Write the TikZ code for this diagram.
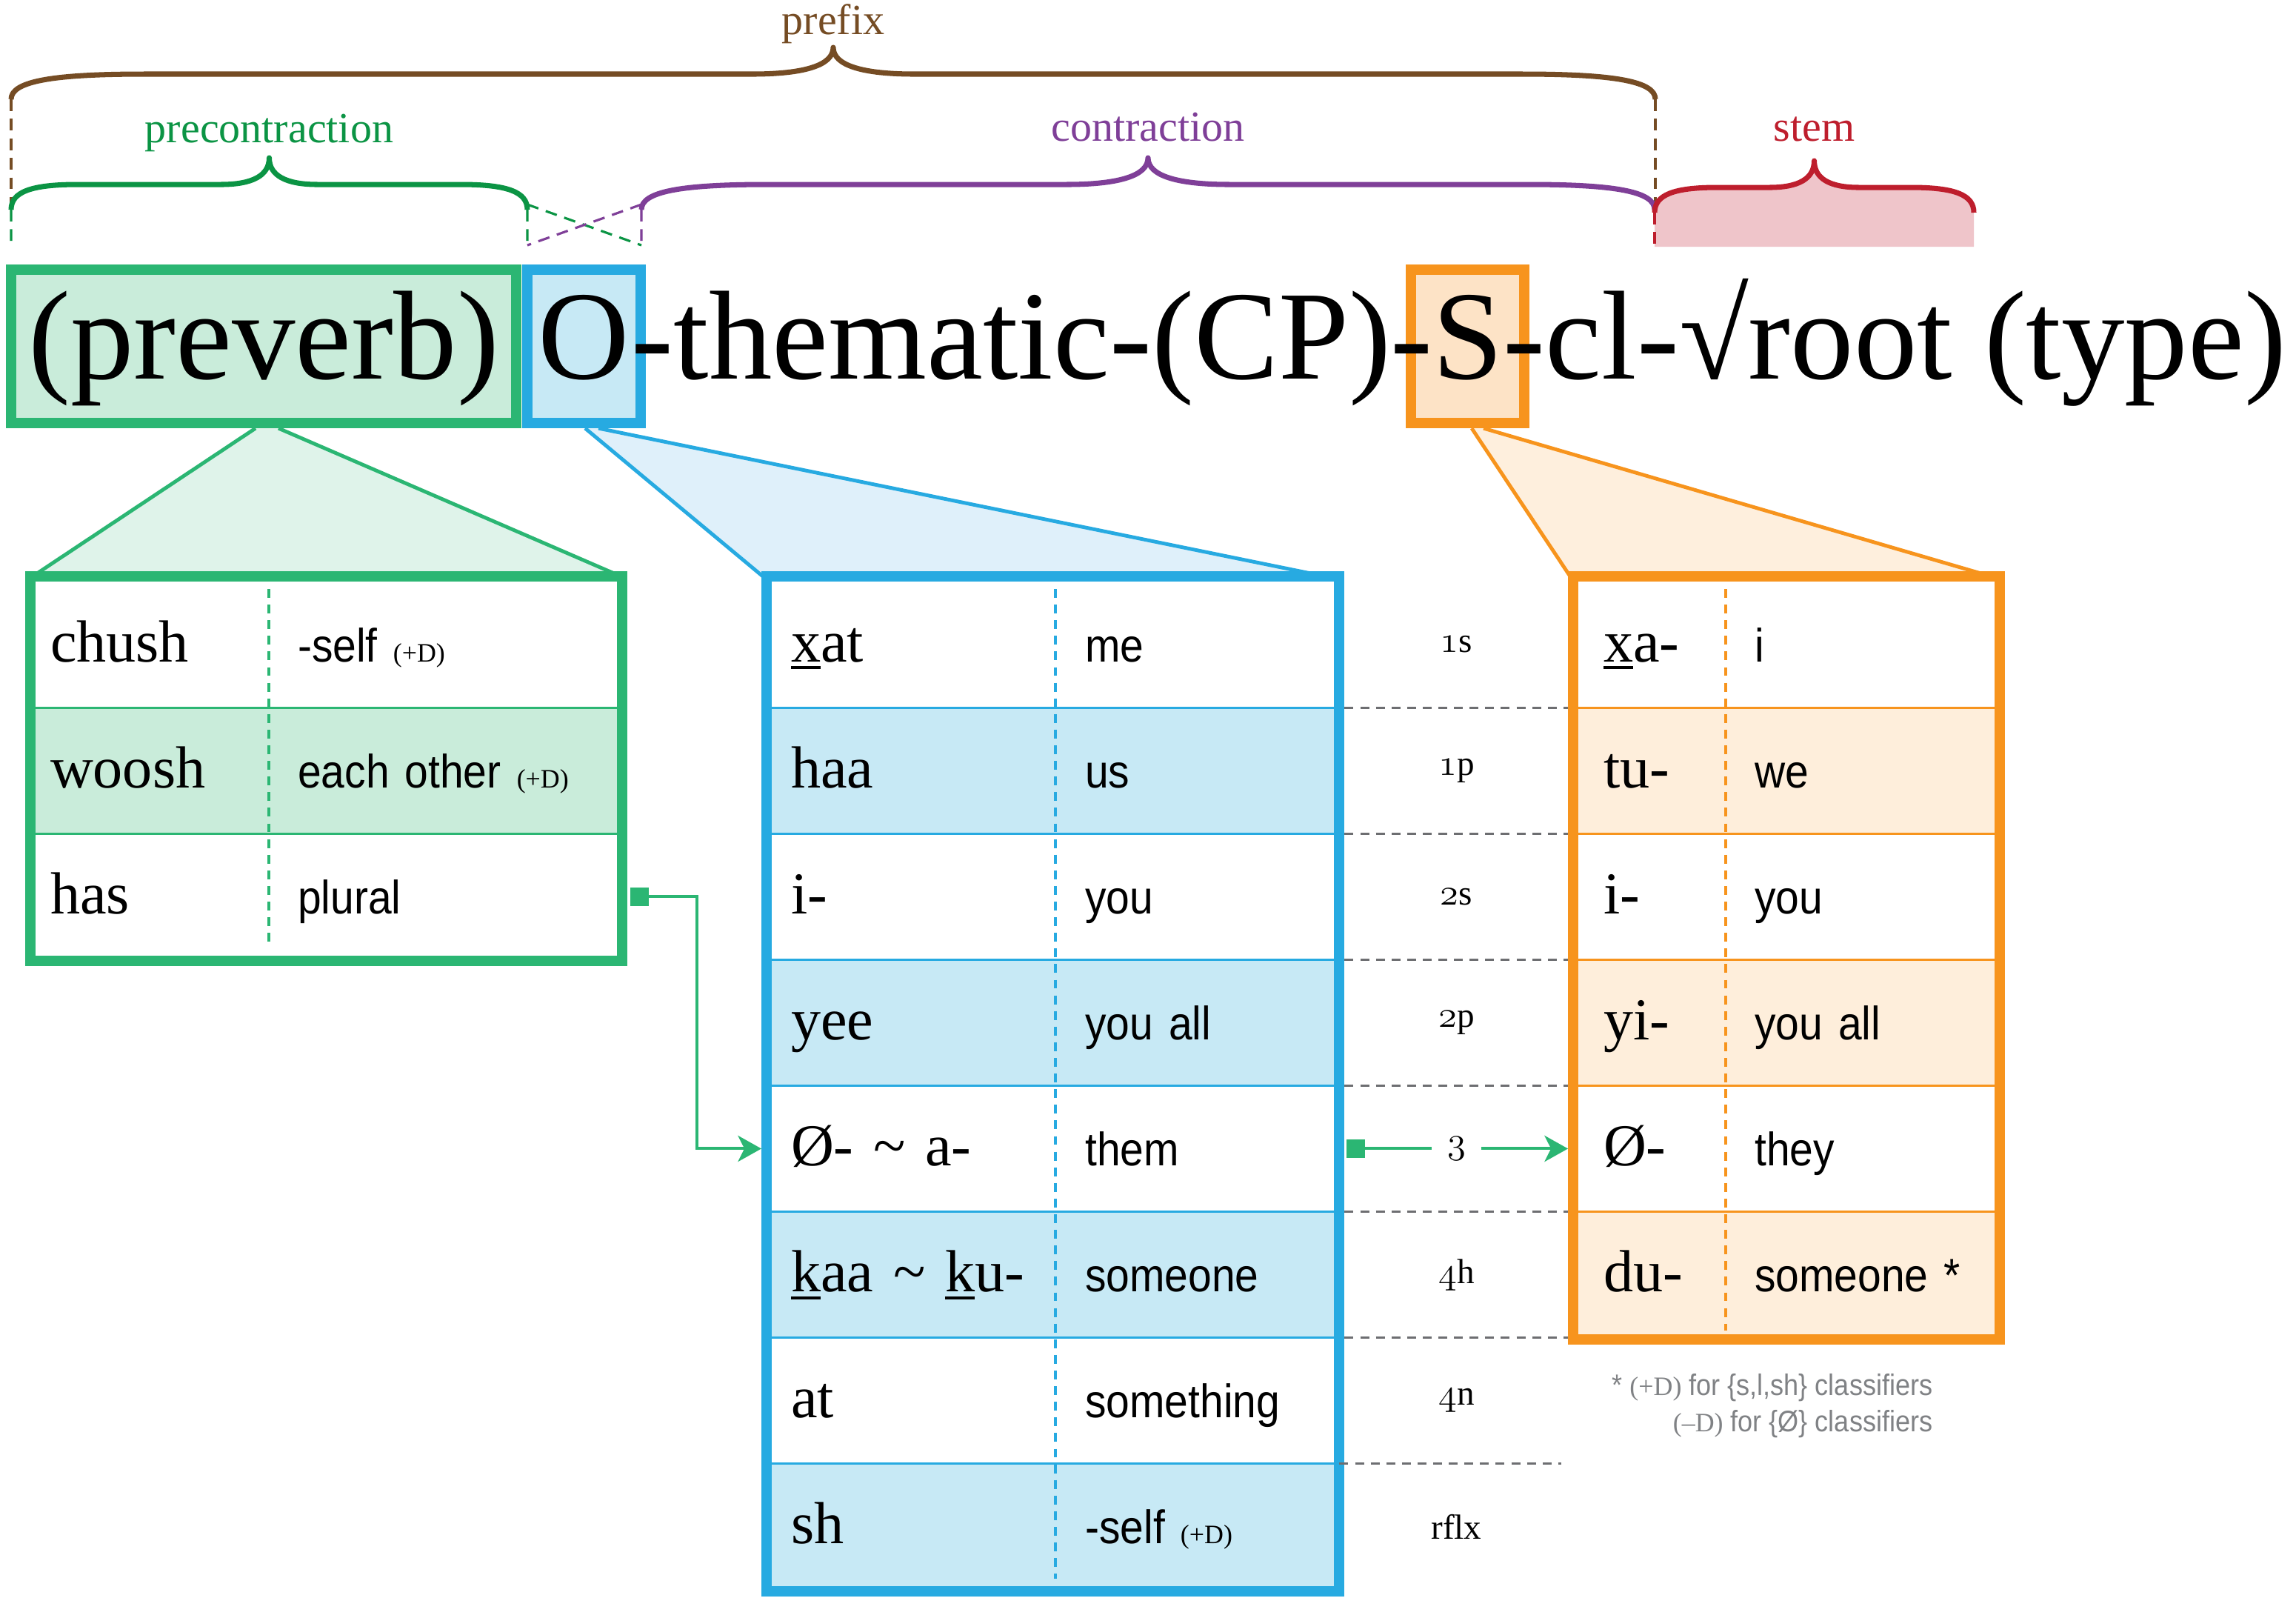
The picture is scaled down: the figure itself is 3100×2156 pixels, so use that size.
\documentclass[tikz,border=0pt]{standalone}
\usepackage{fontspec}
\setmainfont{Liberation Serif}
\newfontfamily\sansgloss[FakeStretch=0.9]{Liberation Sans}
\usepackage{tikz}
\usetikzlibrary{matrix}
\usetikzlibrary{calc}
\usetikzlibrary {arrows.meta}
\tikzset{>=Stealth}

\definecolor{pvgreen}{HTML}{2BB673}
\definecolor{pvfill}{HTML}{C9ECDA}
\definecolor{pvfunnel}{HTML}{DFF3EA}
\definecolor{objblue}{HTML}{27AAE1}
\definecolor{objfill}{HTML}{C7E9F5}
\definecolor{objfunnel}{HTML}{DFF0FA}
\definecolor{subjorange}{HTML}{F7941D}
\definecolor{subjtop}{HTML}{FDE3C6}
\definecolor{subjfill}{HTML}{FEEEDB}
\definecolor{subjfunnel}{HTML}{FEEFDD}
\definecolor{prefixbrown}{HTML}{754C24}
\definecolor{precgreen}{HTML}{0B9444}
\definecolor{contrpurple}{HTML}{7F3F98}
\definecolor{stemred}{HTML}{BE1E2D}
\definecolor{stempink}{HTML}{EFC5CA}
\definecolor{notegray}{HTML}{808285}
\definecolor{rulegray}{HTML}{6D6E71}

\newcommand{\mainsize}{\fontsize{48.6}{58}\selectfont}
\newcommand{\wordsize}{\fontsize{22.8}{27}\selectfont}
\newcommand{\glosssize}{\sansgloss\fontsize{18}{22}\selectfont}
\newcommand{\labelsize}{\fontsize{16.5}{20}\selectfont}
\newcommand{\persize}{\fontsize{13.4}{16}\selectfont}
\newcommand{\notesize}{\sansgloss\fontsize{11.4}{14}\selectfont}
\newcommand{\plusD}{{\rmfamily\fontsize{10.2}{12}\selectfont(+D)}}
\newcommand{\minusD}{{\rmfamily\fontsize{10.2}{12}\selectfont(–D)}}
\newsavebox{\ulbox}
\newcommand{\undl}[1]{\sbox{\ulbox}{#1}\rlap{\rule[-0.125em]{\wd\ulbox}{0.05em}}\usebox{\ulbox}}
\newcommand{\osn}[1]{{\usefont{OML}{lmm}{m}{it}#1}}

% brace from x #1 to x #2, ends at y #3, end span #4, tip span #5
\newcommand{\bracepath}[5]{%
  (#1,#3) .. controls (#1,{#3-24}) and ({#1+0.3*#4},{#3-34}) .. ({#1+#4},{#3-34})
  -- ({(#1+#2)/2-#5},{#3-34})
  .. controls ({(#1+#2)/2-0.35*#5},{#3-34}) and ({(#1+#2)/2},{#3-46}) .. ({(#1+#2)/2},{#3-70})
  .. controls ({(#1+#2)/2},{#3-46}) and ({(#1+#2)/2+0.35*#5},{#3-34}) .. ({(#1+#2)/2+#5},{#3-34})
  -- ({#2-#4},{#3-34})
  .. controls ({#2-0.3*#4},{#3-34}) and (#2,{#3-24}) .. (#2,#3)}

\tikzset{
  topbox/.style={draw=#1, line width=3.98pt, minimum height=2.07cm, minimum width=1.53cm, inner sep=0pt},
  mainword/.style={font=\mainsize, inner sep=0pt},
  cell/.style={inner ysep=0pt, minimum height=1.7cm, text height=0.6cm, text depth=0.14cm, align=left, anchor=center},
  tabframe/.style={draw=#1, line width=3.98pt},
  rowrule/.style={draw=#1, line width=0.85pt},
  colrule/.style={draw=#1, line width=1.1pt, dash pattern=on 3.4pt off 2.6pt},
  funnelside/.style={draw=#1, line width=1.4pt},
  bracestroke/.style={draw=#1, line width=2pt, line join=round},
  bracelink/.style={draw=#1, line width=0.9pt, dash pattern=on 4.5pt off 3pt},
  bracelabel/.style={font=\labelsize, text=#1, inner sep=0pt, anchor=base},
  perlab/.style={font=\persize, inner xsep=0.2cm, inner ysep=0pt},
  rowsep/.style={draw=rulegray, line width=0.85pt, dash pattern=on 3.4pt off 2.6pt},
  link/.style={draw=pvgreen, line width=1.14pt},
  note/.style={font=\notesize, text=notegray, inner sep=0pt, anchor=base east}
}

\begin{document}
\begin{tikzpicture}[x=0.01cm, y=-0.01cm, ampersand replacement=\&]
\path[use as bounding box, fill=white] (0,0) rectangle (3100,2156);

\node[topbox=pvgreen, fill=pvfill, minimum width=6.82cm] (pvbox) at (356,467.5) {};
\node[topbox=objblue, fill=objfill] (objbox) at (788.5,467.5) {};
\node[topbox=subjorange, fill=subjtop] (subjbox) at (1981.5,467.5) {};
\node[mainword, anchor=base] (pvtext) at (356,511) {(preverb)};
\node[mainword, anchor=base] (objtext) at (788.5,511) {O};
\node[mainword, anchor=base west] (resttext) at (852,511) {-thematic-(CP)-S-cl-√root (type)};

\matrix (pre) at (48,785) [matrix of nodes, anchor=north west, inner sep=0pt, outer sep=0pt,
		nodes={cell},
		column 1/.style={nodes={font=\wordsize, inner xsep=0.2cm, text width=2.75cm}},
		column 2/.style={nodes={font=\glosssize, inner xsep=0.39cm, text width=3.92cm}},
		row 2/.style={nodes={fill=pvfill}}] {
	chush \& -self~\plusD \\
	woosh \& each~other~\plusD \\
	has \& plural \\
};

\matrix (obj) at (1042,785) [matrix of nodes, anchor=north west, inner sep=0pt, outer sep=0pt,
		nodes={cell},
		column 1/.style={nodes={font=\wordsize, inner xsep=0.26cm, text width=3.31cm}},
		column 2/.style={nodes={font=\glosssize, inner xsep=0.4cm, text width=2.96cm}},
		row 2/.style={nodes={fill=objfill}}, row 4/.style={nodes={fill=objfill}},
		row 6/.style={nodes={fill=objfill}}, row 8/.style={nodes={fill=objfill}}] {
	\undl{x}at \& me \\
	haa \& us \\
	i- \& you \\
	yee \& you~all \\
	Ø- \textasciitilde{} a- \& them \\
	\undl{k}aa \textasciitilde{} \undl{k}u- \& someone \\
	at \& something \\
	sh \& -self~\plusD \\
};

\matrix (sub) at (2131,785) [matrix of nodes, anchor=north west, inner sep=0pt, outer sep=0pt,
		nodes={cell},
		column 1/.style={nodes={font=\wordsize, inner xsep=0.34cm, text width=1.31cm}},
		column 2/.style={nodes={font=\glosssize, inner xsep=0.39cm, text width=2.85cm}},
		row 2/.style={nodes={fill=subjfill}}, row 4/.style={nodes={fill=subjfill}},
		row 6/.style={nodes={fill=subjfill}}] {
	\undl{x}a- \& i \\
	tu- \& we \\
	i- \& you \\
	yi- \& you~all \\
	Ø- \& they \\
	du- \& someone~* \\
};

	\foreach \r in {1,2} \draw[rowrule=pvgreen] (pre-\r-1.south west) -- (pre-\r-2.south east);
	\foreach \r in {1,...,7} \draw[rowrule=objblue] (obj-\r-1.south west) -- (obj-\r-2.south east);
	\foreach \r in {1,...,5} \draw[rowrule=subjorange] (sub-\r-1.south west) -- (sub-\r-2.south east);
	\draw[colrule=pvgreen] ($(pre-1-1.north east)+(0,10)$) -- ($(pre-3-1.south east)+(0,-15)$);
	\draw[colrule=objblue] ($(obj-1-1.north east)+(0,10)$) -- ($(obj-8-1.south east)+(0,-15)$);
	\draw[colrule=subjorange] ($(sub-1-1.north east)+(0,10)$) -- ($(sub-6-1.south east)+(0,-10)$);

	\fill[pvfunnel] ($(pvbox.south)+(-11,0)$) -- ($(pvbox.south)+(20,0)$) -- ($(pre.north east)+(5,-7)$) -- ($(pre.north west)+(-4,-7)$) -- cycle;
	\draw[funnelside=pvgreen] ($(pvbox.south)+(-11,0)$) -- ($(pre.north west)+(-4,-7)$) ($(pvbox.south)+(20,0)$) -- ($(pre.north east)+(5,-7)$);
	\fill[objfunnel] ($(objbox.south)+(1.5,0)$) -- ($(objbox.south)+(19.5,0)$) -- ($(obj.north east)+(-12,-7)$) -- ($(obj.north west)+(-12,-7)$) -- cycle;
	\draw[funnelside=objblue] ($(objbox.south)+(1.5,0)$) -- ($(obj.north west)+(-12,-7)$) ($(objbox.south)+(19.5,0)$) -- ($(obj.north east)+(-12,-7)$);
	\fill[subjfunnel] ($(subjbox.south)+(5.5,0)$) -- ($(subjbox.south)+(21.5,0)$) -- ($(sub.north east)+(-5,-7)$) -- ($(sub.north west)+(-11,-7)$) -- cycle;
	\draw[funnelside=subjorange] ($(subjbox.south)+(5.5,0)$) -- ($(sub.north west)+(-11,-7)$) ($(subjbox.south)+(21.5,0)$) -- ($(sub.north east)+(-5,-7)$);

	\draw[tabframe=pvgreen] ($(pre.north west)+(-7,-7)$) rectangle ($(pre.south east)+(7,2)$);
	\draw[tabframe=objblue] ($(obj.north west)+(-7,-7)$) rectangle ($(obj.south east)+(7,2)$);
	\draw[tabframe=subjorange] ($(sub.north west)+(-7,-7)$) rectangle ($(sub.south east)+(7,2)$);

	\foreach \lab [count=\i] in {\osn{1}s,\osn{1}p,\osn{2}s,\osn{2}p,\osn{3},\osn{4}h,\osn{4}n,rflx}
		\node[perlab] (per\i) at ($(obj-\i-2.east)+(165,0)$) {\lab};
	\foreach \r in {1,...,6} \draw[rowsep] ($(obj-\r-2.south east)+(14,0)$) -- ($(sub-1-1.west |- obj-\r-2.south)+(-14,0)$);
	\draw[rowsep] ($(obj-7-2.south east)+(7,0)$) -- ($(sub-1-1.west |- obj-7-2.south)+(-23,0)$);

	\draw[link, {Square[length=7pt,width=7pt]}-{Stealth[length=9pt,width=10pt,inset=2.5pt]}] ($(pre-3-2.east)+(18,0)$) -- ++(90,0) |- ($(obj-5-1.west)+(-14,0)$);
	\draw[link, {Square[length=7pt,width=7pt]}-] ($(obj-5-2.east)+(17,0)$) -- (per5.west);
	\draw[link, -{Stealth[length=9pt,width=10pt,inset=2.5pt]}] (per5.east) -- ($(sub-5-1.west)+(-14,0)$);

	\node[note] (fnplus) at (2610,1883) {* \plusD{} for \{s,l,sh\} classifiers};
	\node[note] (fnminus) at (2610,1932) {\minusD{} for \{Ø\} classifiers};

	\draw[bracelink=prefixbrown] (15,134) -- (15,283) (2235,134) -- (2235,280);
	\draw[bracelink=precgreen] (15,283) -- (15,331) (712,283) -- (712,331) (712,276) -- (866,331);
	\draw[bracelink=contrpurple] (866,283) -- (866,331) (866,276) -- (712,331);
	\fill[stempink] \bracepath{2234}{2665}{287}{85}{60} -- (2665,333) -- (2234,333) -- cycle;
	\draw[bracelink=stemred] (2234,287) -- (2234,333);

	\draw[bracestroke=prefixbrown] \bracepath{15}{2235}{134}{180}{110};
	\draw[bracestroke=precgreen] \bracepath{15}{712}{283}{90}{65};
	\draw[bracestroke=contrpurple] \bracepath{866}{2234}{283}{170}{110};
	\draw[bracestroke=stemred] \bracepath{2234}{2665}{287}{85}{60};

	\node[bracelabel=prefixbrown] (prefixlab) at (1125,46) {prefix};
	\node[bracelabel=precgreen] (preclab) at (363.5,192) {precontraction};
	\node[bracelabel=contrpurple] (contrlab) at (1550,190) {contraction};
	\node[bracelabel=stemred] (stemlab) at (2449.5,190) {stem};
\end{tikzpicture}
\end{document}
